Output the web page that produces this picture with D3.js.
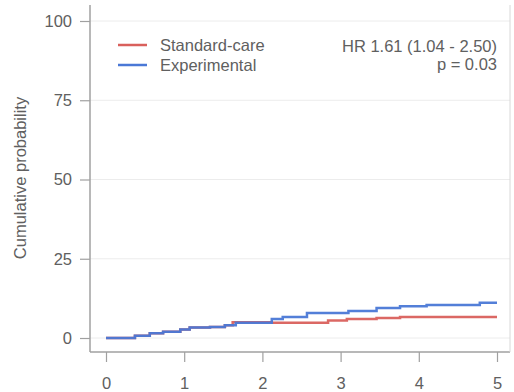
<!DOCTYPE html>
<html>
<head>
<meta charset="utf-8">
<script src="https://cdn.jsdelivr.net/npm/d3@7"></script>
<style>
  body { margin: 0; background: #fff; }
  text { font-family: "Liberation Sans", Arial, sans-serif; }
</style>
</head>
<body>
<div id="chart"></div>
<script>
// step-curve data (years, cumulative %)
const stdTimes = [0, 0.37, 0.56, 0.73, 0.95, 1.07, 1.33, 1.52, 1.62, 2.12, 2.84, 3.08, 3.46, 3.76, 5];
const stdVals  = [0, 0.7, 1.5, 2.0, 2.7, 3.3, 3.5, 4.0, 5.0, 4.8, 5.5, 6.0, 6.3, 6.6, 6.6];
const expTimes = [0, 0.37, 0.56, 0.73, 0.95, 1.07, 1.33, 1.52, 1.66, 2.12, 2.26, 2.57, 3.1, 3.46, 3.76, 4.1, 4.78, 5];
const expVals  = [0, 0.7, 1.5, 2.0, 2.7, 3.3, 3.5, 4.0, 4.8, 6.0, 6.6, 7.9, 8.5, 9.5, 10.0, 10.4, 11.1, 11.1];
const xTicks = [0, 1, 2, 3, 4, 5];
const yTicks = [0, 25, 50, 75, 100];
const seriesNames = ['Standard-care', 'Experimental'];
const seriesColors = ['#d9605c', '#4a78d6'];
const hrText = 'HR 1.61 (1.04 - 2.50)';
const pText = 'p = 0.03';

const width = 514, height = 392;
const fontSize = '16.5px';
const textColor = '#606060';
const svg = d3.select('#chart').append('svg')
  .attr('width', width).attr('height', height);

const x = d3.scaleLinear().domain([0, 5]).range([106, 497]);
const y = d3.scaleLinear().domain([0, 100]).range([338, 21]);

const plotLeft = 90, plotRight = 510, plotTop = 5, plotBottom = 352;

// gridlines
svg.append('g').selectAll('line').data(yTicks).join('line')
  .attr('x1', plotLeft).attr('x2', plotRight)
  .attr('y1', d => y(d)).attr('y2', d => y(d))
  .attr('stroke', '#ececec').attr('stroke-width', 1);

// frame: left, bottom, right
svg.append('line').attr('x1', plotLeft).attr('x2', plotLeft).attr('y1', plotTop).attr('y2', plotBottom)
  .attr('stroke', '#a0a0a0').attr('stroke-width', 1.5);
svg.append('line').attr('x1', plotLeft).attr('x2', plotRight).attr('y1', plotBottom).attr('y2', plotBottom)
  .attr('stroke', '#a0a0a0').attr('stroke-width', 1.5);
svg.append('line').attr('x1', plotRight).attr('x2', plotRight).attr('y1', plotTop).attr('y2', plotBottom)
  .attr('stroke', '#d8d8d8').attr('stroke-width', 1);

// y axis
const yAxis = d3.axisLeft(y).tickValues(yTicks).tickFormat(d3.format('d')).tickSize(10).tickPadding(8);
const yg = svg.append('g').attr('transform', `translate(${plotLeft},0)`).call(yAxis);
yg.select('.domain').remove();
yg.selectAll('line').attr('stroke', '#a0a0a0').attr('stroke-width', 1.2);
yg.selectAll('text').attr('fill', textColor).style('font-size', fontSize);

// x axis
const xAxis = d3.axisBottom(x).tickValues(xTicks).tickFormat(d3.format('d')).tickSize(10).tickPadding(15);
const xg = svg.append('g').attr('transform', `translate(0,${plotBottom})`).call(xAxis);
xg.select('.domain').remove();
xg.selectAll('line').attr('stroke', '#a0a0a0').attr('stroke-width', 1.2);
xg.selectAll('text').attr('fill', textColor).style('font-size', fontSize);

// y label
svg.append('text')
  .attr('transform', `translate(26,178) rotate(-90)`)
  .attr('text-anchor', 'middle')
  .attr('fill', textColor).style('font-size', fontSize)
  .text('Cumulative probability');

// curves
const line = d3.line().curve(d3.curveStepAfter).x(d => x(d[0])).y(d => y(d[1]));
const series = [
  d3.zip(stdTimes, stdVals),
  d3.zip(expTimes, expVals)
];
series.forEach((s, i) => {
  svg.append('path').datum(s)
    .attr('d', line)
    .attr('fill', 'none')
    .attr('stroke', seriesColors[i])
    .attr('stroke-width', 2.5)
    .attr('stroke-opacity', 0.95);
});

// legend
seriesNames.forEach((name, i) => {
  const ly = 45 + i * 20;
  svg.append('line').attr('x1', 118).attr('x2', 147).attr('y1', ly).attr('y2', ly)
    .attr('stroke', seriesColors[i]).attr('stroke-width', 2.5);
  svg.append('text').attr('x', 160).attr('y', ly + 6)
    .attr('fill', textColor).style('font-size', fontSize).text(name);
});

// HR annotation
svg.append('text').attr('x', 497).attr('y', 52).attr('text-anchor', 'end')
  .attr('fill', textColor).style('font-size', fontSize).text(hrText);
svg.append('text').attr('x', 497).attr('y', 70).attr('text-anchor', 'end')
  .attr('fill', textColor).style('font-size', fontSize).text(pText);
</script>
</body>
</html>
